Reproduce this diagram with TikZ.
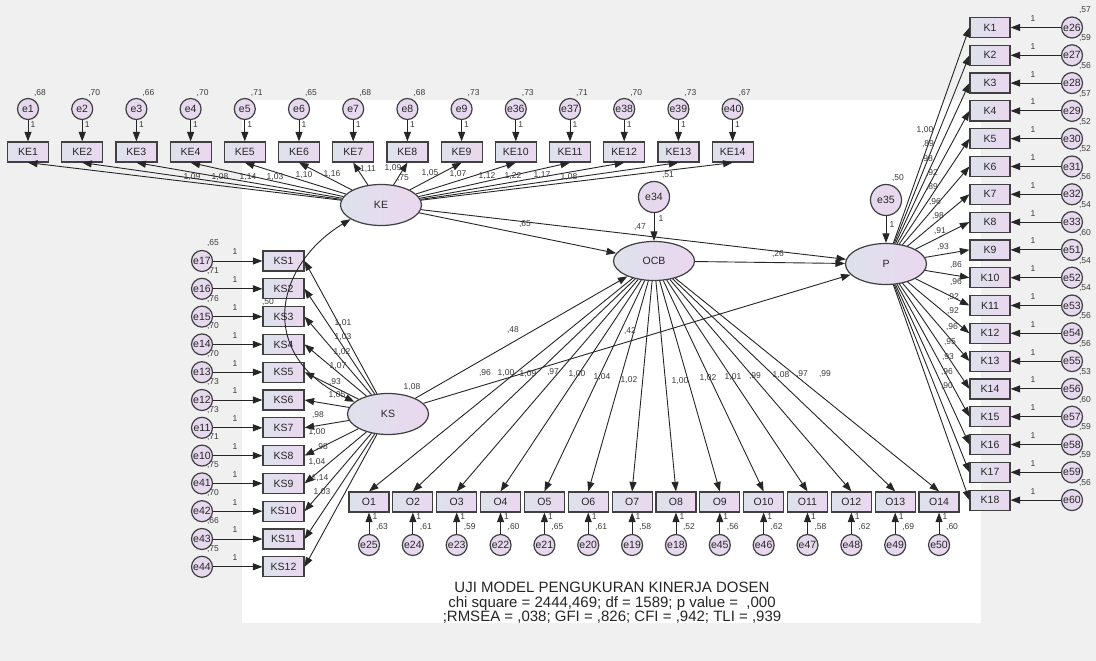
\documentclass[tikz,border=0pt]{standalone}
\usepackage{fontspec}
\setmainfont{Liberation Sans}
\usetikzlibrary{arrows.meta,shapes.geometric}
\definecolor{bgc}{HTML}{F0F0F0}
\definecolor{boxL}{HTML}{DDE2EC}
\definecolor{boxR}{HTML}{EBD7EF}
\definecolor{circ}{HTML}{E6D9EE}
\definecolor{edgec}{HTML}{404040}
\definecolor{numc}{HTML}{3A3A3A}
\newcommand{\fsz}[1]{\fontsize{#1}{#1}\selectfont}
\begin{document}
\begin{tikzpicture}[x=1pt,y=-1pt,
 ind/.style={rectangle,draw=edgec,line width=1.2pt,left color=boxL,right color=boxR,minimum width=41pt,minimum height=20pt,inner sep=0pt,font=\fsz{10.5},text=black!85},
 err/.style={circle,draw=edgec,line width=1.2pt,fill=circ,minimum size=21pt,inner sep=0pt,font=\fsz{10.5},text=black!85},
 bigerr/.style={err,minimum size=31pt},
 lat/.style={ellipse,draw=edgec,line width=1.2pt,left color=boxL,right color=boxR,minimum width=81pt,minimum height=41pt,inner sep=0pt,font=\fsz{10.5},text=black!85},
 num/.style={font=\fsz{8.5},text=numc,inner sep=0pt},
 arr/.style={-{Triangle[length=9.5pt,width=7pt]},line width=0.9pt,draw=black!85},
 darr/.style={{Triangle[length=9.5pt,width=7pt]}-{Triangle[length=9.5pt,width=7pt]},line width=0.9pt,draw=black!85},
]
\useasboundingbox (0,0) rectangle (1096,661);
\fill[bgc] (0,0) rectangle (1096,661);
\fill[white] (242,100) rectangle (981,623);

% latent variables
\node[lat] (KE) at (381,205) {KE};
\node[lat] (KS) at (388,414) {KS};
\node[lat,minimum height=39pt] (OCB) at (654,261) {OCB};
\node[lat] (P) at (886,264) {P};
\node[bigerr] (e34) at (654,197) {e34};
\node[bigerr] (e35) at (886,200) {e35};

% KE indicators
\foreach \en/\v/\lab/\lx/\ly [count=\i] in {e1/68/{1,09}/192/177, e2/70/{1,08}/220/177, e3/66/{1,14}/248/177, e4/70/{1,03}/275/177, e5/71/{1,10}/304/175, e6/65/{1,16}/332/174, e7/68/{1,11}/368/169, e8/68/{1,09}/393/168, e9/73/{1,05}/430/173, e36/73/{1,07}/458/174, e37/71/{1,12}/487/176, e38/70/{1,22}/513/176, e39/73/{1,17}/542/175, e40/67/{1,08}/569/177}
{
 \pgfmathsetmacro\xx{28+54.2*(\i-1)}
 \node[ind] (KE\i) at (\xx,152) {KE\i};
 \node[err] (\en) at (\xx,109) {\en};
 \node[num] at (\xx+12,93) {,\v};
 \draw[arr] (\en) -- (KE\i);
 \node[num] at (\xx+5,125) {1};
 \draw[arr] (KE) -- (KE\i.south);
 \node[num] at (\lx,\ly) {\lab};
}

% KS indicators
\foreach \en/\v/\lab/\lx/\ly [count=\i] in {e17/65/{1,01}/343/323, e16/71/{1,03}/343/337, e15/76/{1,02}/342/352, e14/70/{1,07}/338/366, e13/70/{,93}/335/382, e12/73/{1,05}/337/395, e11/73/{,98}/318/415, e10/71/{1,00}/317/432, e41/75/{,98}/322/447, e42/70/{1,04}/317/462, e43/66/{1,14}/320/478, e44/75/{1,03}/322/492}
{
 \pgfmathsetmacro\yy{261+27.8*(\i-1)}
 \node[ind] (KS\i) at (283.5,\yy) {KS\i};
 \node[err] (\en) at (202,\yy) {\en};
 \node[num] at (213,\yy-18) {,\v};
 \draw[arr] (\en) -- (KS\i);
 \node[num] at (235,\yy-9) {1};
 \draw[arr] (KS) -- (KS\i.east);
 \node[num] at (\lx,\ly) {\lab};
}

% OCB indicators
\foreach \en/\v/\lab/\lx/\ly [count=\i] in {e25/63/{,96}/485/373, e24/61/{1,00}/506/373, e23/59/{1,09}/528/374, e22/60/{,97}/553/372, e21/65/{1,00}/577/374, e20/61/{1,04}/602/377, e19/58/{1,02}/629/380, e18/52/{1,00}/680/381, e45/56/{1,02}/708/378, e46/62/{1,01}/733/377, e47/58/{,99}/755/376, e48/62/{1,08}/781/375, e49/69/{,97}/802/374, e50/60/{,99}/825/374}
{
 \pgfmathsetmacro\xx{369+43.85*(\i-1)}
 \node[ind,minimum width=40pt] (O\i) at (\xx,502) {O\i};
 \node[err] (\en) at (\xx,545) {\en};
 \draw[arr] (\en) -- (O\i);
 \node[num] at (\xx+6,517) {1};
 \node[num] at (\xx+13,527) {,\v};
 \draw[arr] (OCB) -- (O\i.north);
 \node[num] at (\lx,\ly) {\lab};
}

% P indicators
\foreach \en/\v/\lab/\lx/\ly [count=\i] in {e26/57/{1,00}/925/130, e27/59/{,89}/928/144, e28/56/{,98}/927/159, e29/57/{,92}/932/173, e30/52/{,89}/932/187, e31/52/{,96}/935/202, e32/56/{,98}/938/216, e33/54/{,91}/940/231, e51/60/{,93}/943/247, e52/54/{,86}/956/265, e53/54/{,96}/956/282, e54/56/{,92}/953/297, e55/56/{,92}/953/311, e56/53/{,96}/952/327, e57/60/{,95}/950/342, e58/59/{,93}/948/357, e59/59/{,96}/947/372, e60/56/{,90}/947/386}
{
 \pgfmathsetmacro\yy{27.5+27.8*(\i-1)}
 \node[ind,minimum width=40pt] (K\i) at (990,\yy) {K\i};
 \node[err] (\en) at (1072,\yy) {\en};
 \draw[arr] (\en) -- (K\i);
 \node[num] at (1033,\yy-9) {1};
 \node[num] at (1085,\yy-17) {,\v};
 \draw[arr] (P) -- (K\i.west);
 \node[num] at (\lx,\ly) {\lab};
}

% structural paths
\draw[arr] (KE) -- (OCB);
\draw[arr] (KE) -- (P);
\draw[arr] (OCB) -- (P);
\draw[arr] (KS) -- (OCB);
\draw[arr] (KS) -- (P);
\draw[arr] (e34) -- (OCB);
\draw[arr] (e35) -- (P);
\draw[darr] (KS.160) .. controls (255,355) and (275,265) .. (KE.205);

\node[num] at (525,224) {,65};
\node[num] at (778,254) {,26};
\node[num] at (513,330) {,48};
\node[num] at (630,331) {,42};
\node[num] at (661,219) {1};
\node[num] at (668,175) {,51};
\node[num] at (640,227) {,47};
\node[num] at (892,225) {1};
\node[num] at (898,178) {,50};
\node[num] at (403,178) {,75};
\node[num] at (412,387) {1,08};
\node[num] at (268,302) {,50};

% title
\node[align=center,font=\fontsize{15}{14.5}\selectfont,text=black!85,inner sep=0pt] (title) at (612,603) {UJI MODEL PENGUKURAN KINERJA DOSEN\\chi square = 2444,469; df = 1589; p value = \ ,000\\;RMSEA = ,038; GFI = ,826; CFI = ,942; TLI = ,939};
\end{tikzpicture}
\end{document}
